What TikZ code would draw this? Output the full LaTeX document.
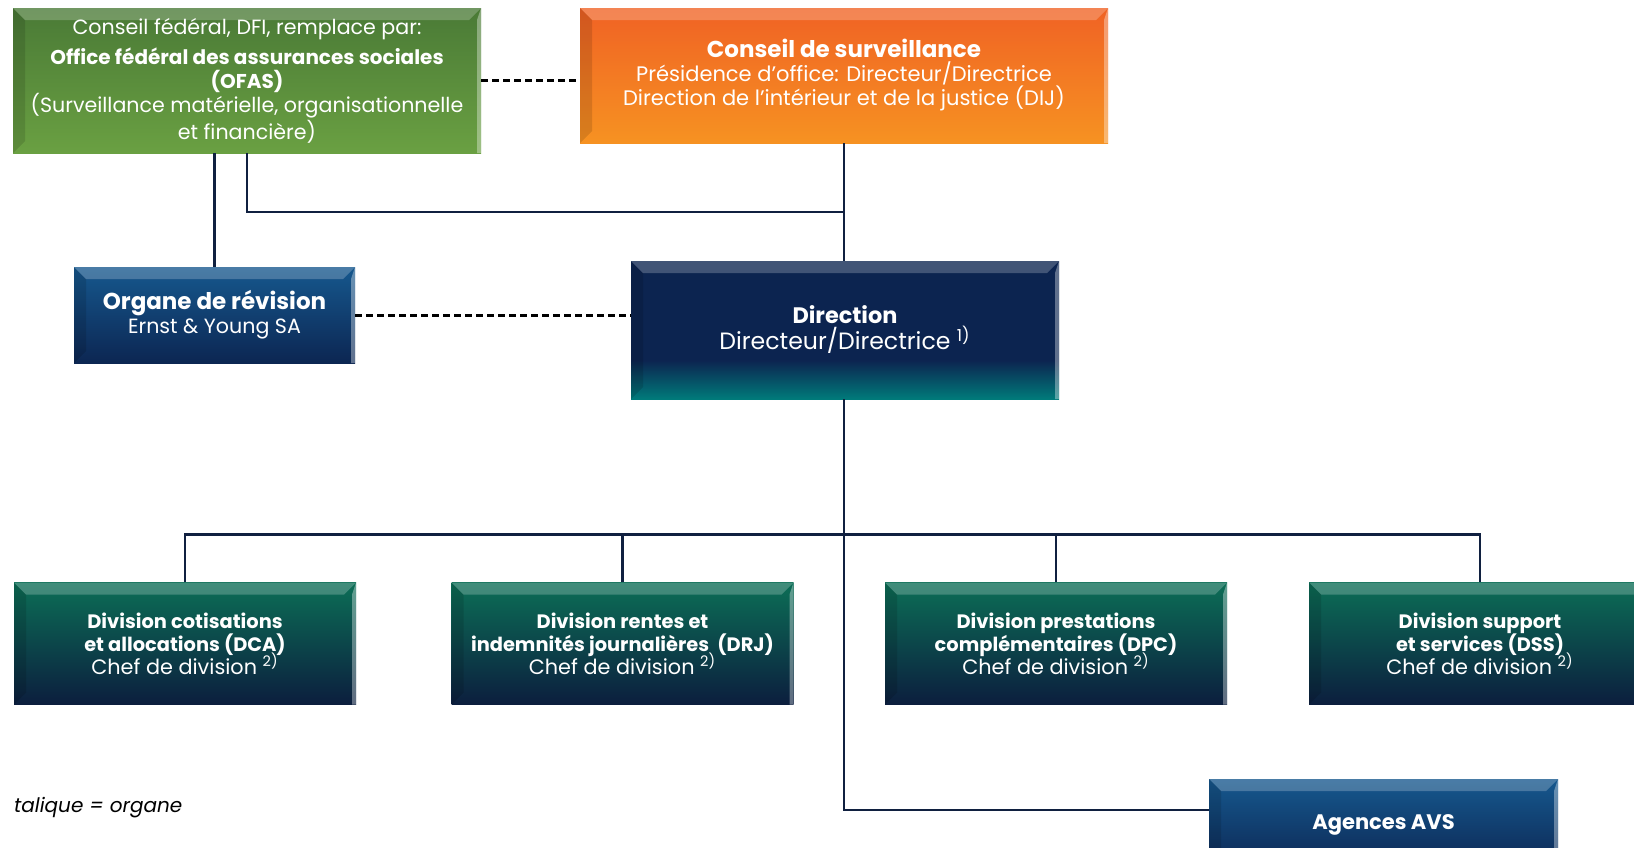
\documentclass[tikz,border=0pt]{standalone}
\usepackage{fontspec}
\setmainfont{Poppins}
\usetikzlibrary{shapes, calc}
\definecolor{navy}{RGB}{12,36,80}
\definecolor{teal}{RGB}{0,122,122}
\pgfdeclareverticalshading{dirshade}{100bp}{color(0bp)=(teal); color(25bp)=(teal); color(39bp)=(navy); color(100bp)=(navy)}

\begin{document}
\begin{tikzpicture}[x=0.5pt,y=-0.5pt,
	box/.style={rectangle, inner sep=0pt, align=center, text=white, path picture={
		\fill[white,opacity=0.22] (path picture bounding box.north west) -- (path picture bounding box.north east) -- ([shift={(-6pt,-6pt)}]path picture bounding box.north east) -- ([shift={(6pt,-6pt)}]path picture bounding box.north west) -- cycle;
		\fill[white,opacity=0.35] (path picture bounding box.north east) -- (path picture bounding box.south east) -- ([shift={(-2pt,0pt)}]path picture bounding box.south east) -- ([shift={(-2pt,-6pt)}]path picture bounding box.north east) -- cycle;
		\fill[black,opacity=0.12] (path picture bounding box.north west) -- ([shift={(6pt,-6pt)}]path picture bounding box.north west) -- ([shift={(6pt,6pt)}]path picture bounding box.south west) -- (path picture bounding box.south west) -- cycle;
	}},
	conn/.style={draw=linecol, line width=1.3pt},
	dashconn/.style={draw=black, line width=1.5pt, dash pattern=on 3.5pt off 2pt},
	divbox/.style={box, top color=divtop, middle color=divmid, bottom color=divbot, minimum width=171pt, minimum height=61pt, font=\fontsize{10.4}{11.5}\selectfont}]
	\definecolor{linecol}{RGB}{16,32,64}
	\definecolor{grtop}{RGB}{74,122,54}
	\definecolor{grbot}{RGB}{106,160,66}
	\definecolor{ortop}{RGB}{240,98,36}
	\definecolor{orbot}{RGB}{246,146,34}
	\definecolor{bltop}{RGB}{22,88,142}
	\definecolor{blbot}{RGB}{12,38,82}
	\definecolor{divtop}{RGB}{12,110,86}
	\definecolor{divmid}{RGB}{8,96,82}
	\definecolor{divbot}{RGB}{12,30,62}
	\clip[use as bounding box] (0,0) rectangle (1634,847);
	\fill[white] (0,0) rectangle (1634,847);
	% top row
	\node[box, top color=grtop, bottom color=grbot, minimum width=234pt, minimum height=72.5pt, font=\fontsize{10.3}{12}\selectfont] (ofas) at (247,80.5) {Conseil fédéral, DFI, remplace par:\\[3pt]{\fontsize{10}{12}\selectfont\textbf{Office fédéral des assurances sociales}}\\{\fontsize{10}{12}\selectfont\textbf{(OFAS)}}\\(Surveillance matérielle, organisationnelle\\et financière)};
	\node[box, top color=ortop, bottom color=orbot, minimum width=264pt, minimum height=67.5pt, font=\fontsize{10.5}{12}\selectfont] (cs) at (844,75.5) {{\fontsize{11.5}{12}\selectfont\textbf{Conseil de surveillance}}\\Présidence d'office: Directeur/Directrice\\Direction de l'intérieur et de la justice (DIJ)};
	% middle row
	\node[box, top color=bltop, bottom color=blbot, minimum width=140.5pt, minimum height=48pt, font=\fontsize{10.3}{12}\selectfont] (organe) at (214.5,315) {{\fontsize{11.5}{12}\selectfont\textbf{Organe de révision}}\\Ernst \& Young SA};
	\node[box, shading=dirshade, minimum width=214pt, minimum height=69pt, font=\fontsize{11.8}{13}\selectfont] (dir) at (845,330) {{\fontsize{11.2}{13}\selectfont\textbf{Direction}}\\Directeur/Directrice \smash{\textsuperscript{1)}}};
	% divisions
	\node[divbox] (dca) at (185,643.5) {{\fontsize{9.7}{11.5}\selectfont\textbf{Division cotisations}}\\{\fontsize{9.7}{11.5}\selectfont\textbf{et allocations (DCA)}}\\Chef de division \smash{\textsuperscript{2)}}};
	\node[divbox] (drj) at (622.5,643.5) {{\fontsize{9.7}{11.5}\selectfont\textbf{Division rentes et}}\\{\fontsize{9.7}{11.5}\selectfont\textbf{indemnités journalières\ \ (DRJ)}}\\Chef de division \smash{\textsuperscript{2)}}};
	\node[divbox] (dpc) at (1056,643.5) {{\fontsize{9.7}{11.5}\selectfont\textbf{Division prestations}}\\{\fontsize{9.7}{11.5}\selectfont\textbf{complémentaires (DPC)}}\\Chef de division \smash{\textsuperscript{2)}}};
	\node[divbox] (dss) at (1480,643.5) {{\fontsize{9.7}{11.5}\selectfont\textbf{Division support}}\\{\fontsize{9.7}{11.5}\selectfont\textbf{et services (DSS)}}\\Chef de division \smash{\textsuperscript{2)}}};
	\node[box, top color=bltop, bottom color=blbot, minimum width=174.5pt, minimum height=46pt, font=\fontsize{10.5}{12}\selectfont] (avs) at (1383.5,825) {\textbf{Agences AVS}};
	\node[anchor=west, font=\fontsize{10}{12}\selectfont\itshape] (legend) at (7,808) {talique = organe};
	% connectors
	\coordinate (join) at (844,212);
	\coordinate (bus) at (844,534.5);
	\draw[dashconn] (ofas.east) -- (ofas.east -| cs.west);
	\draw[dashconn] (organe.east) -- (organe.east -| dir.west);
	\draw[conn] (organe.north) -- (organe.north |- ofas.south);
	\draw[conn] (ofas.south) |- (join);
	\draw[conn] (cs.south) -- (cs.south |- dir.north);
	\draw[conn] (cs.south |- dir.south) |- ([yshift=7.5pt]avs.west);
	\draw[conn] (dca.north) |- (dss.north |- bus) -- (dss.north);
	\foreach \d in {drj,dpc}
		\draw[conn] (\d.north) -- (\d.north |- bus);
\end{tikzpicture}
\end{document}
